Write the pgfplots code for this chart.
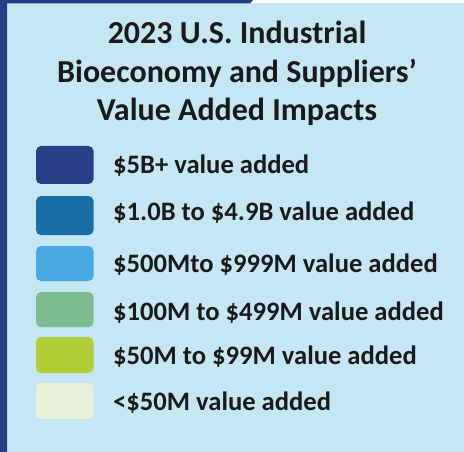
\documentclass[border=0pt]{standalone}
\usepackage{pgfplots}
\pgfplotsset{compat=1.18}
\usepackage{fontspec}
\setmainfont{Carlito}
\definecolor{bgblue}{HTML}{C5E7F3}
\definecolor{navy}{HTML}{263E86}
\definecolor{cA}{HTML}{283F87}
\definecolor{cB}{HTML}{1A6EA6}
\definecolor{cC}{HTML}{4AA8E1}
\definecolor{cD}{HTML}{7DBC8E}
\definecolor{cE}{HTML}{B2CE37}
\definecolor{cF}{HTML}{E8F2DA}
\definecolor{ink}{HTML}{1A1A1A}
\begin{document}
\begin{tikzpicture}
\begin{axis}[
  width=464pt, height=452pt, scale only axis,
  xmin=0, xmax=464, ymin=0, ymax=452, y dir=reverse,
  hide axis, clip=false,
]
% panel
\addplot[fill=white, draw=none] coordinates {(0,0) (464,0) (464,452) (0,452)} -- cycle;
\addplot[fill=bgblue, draw=none] coordinates {(0,3.5) (464,3.5) (464,452) (0,452)} -- cycle;
\addplot[fill=navy, draw=none] coordinates {(0,0) (253,0) (250,3.5) (7,3.5) (7,452) (0,452)} -- cycle;
% swatches
\addplot[fill=cA, draw=none, rounded corners=5pt] coordinates {(36,146) (93.5,146) (93.5,184) (36,184)} -- cycle;
\addplot[fill=cB, draw=none, rounded corners=5pt] coordinates {(36,196) (93.5,196) (93.5,235) (36,235)} -- cycle;
\addplot[fill=cC, draw=none, rounded corners=5pt] coordinates {(36,246) (93.5,246) (93.5,281) (36,281)} -- cycle;
\addplot[fill=cD, draw=none, rounded corners=5pt] coordinates {(36,292) (93.5,292) (93.5,327) (36,327)} -- cycle;
\addplot[fill=cE, draw=none, rounded corners=5pt] coordinates {(36,337) (93.5,337) (93.5,373) (36,373)} -- cycle;
\addplot[fill=cF, draw=none, rounded corners=5pt] coordinates {(36,383) (93.5,383) (93.5,419) (36,419)} -- cycle;
% title
\begin{scope}[every node/.style={anchor=base, inner sep=0pt, text=ink, font=\fontsize{32}{38}\selectfont\bfseries}]
\node at (axis cs:237,44) {2023 U.S. Industrial};
\node at (axis cs:237,82.5) {Bioeconomy and Suppliers’};
\node at (axis cs:237,120.5) {Value Added Impacts};
\end{scope}
% labels
\begin{scope}[every node/.style={anchor=base west, inner sep=0pt, text=ink, font=\fontsize{26.6}{30}\selectfont\bfseries}]
\node at (axis cs:113,173.3) {\$5B+ value added};
\node at (axis cs:113,220.5) {\$1.0B to \$4.9B value added};
\node at (axis cs:113,272) {\$500Mto \$999M value added};
\node at (axis cs:113,320) {\$100M to \$499M value added};
\node at (axis cs:113,364) {\$50M to \$99M value added};
\node at (axis cs:113,410) {<\$50M value added};
\end{scope}
\end{axis}
\end{tikzpicture}
\end{document}
